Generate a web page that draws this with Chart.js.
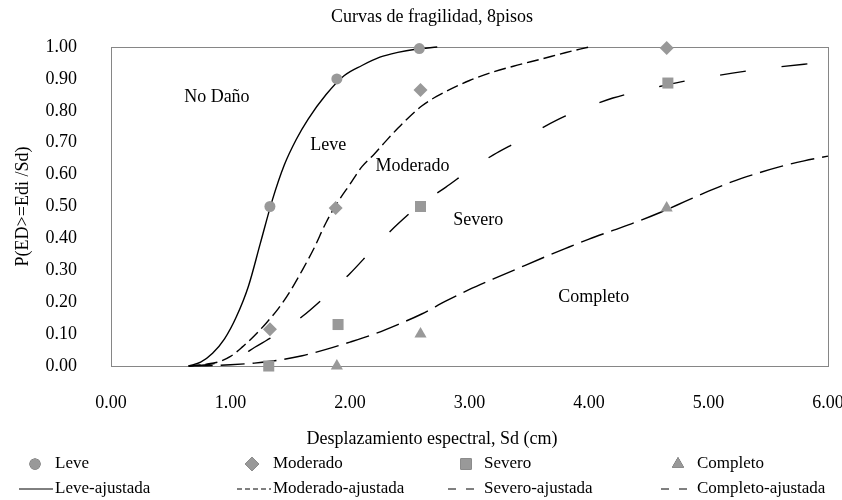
<!DOCTYPE html>
<html>
<head>
<meta charset="utf-8">
<script src="https://cdn.jsdelivr.net/npm/chart.js@4.4.0/dist/chart.umd.min.js"></script>
<style>
  html, body { margin: 0; padding: 0; background: #fff; }
  #wrap { width: 842px; height: 500px; }
</style>
</head>
<body>
<div id="wrap"><canvas id="fragChart"></canvas></div>
<script>
// axis ticks
const sdTicks = [0, 1, 2, 3, 4, 5, 6];
const pTicks = [0, 0.1, 0.2, 0.3, 0.4, 0.5, 0.6, 0.7, 0.8, 0.9, 1.0];

// observed points (Sd in cm, probability)
const leveSd = [1.33, 1.89, 2.58];
const leveP = [0.50, 0.90, 0.995];
const modSd = [1.33, 1.88, 2.59, 4.65];
const modP = [0.115, 0.495, 0.865, 0.997];
const sevSd = [1.32, 1.90, 2.59, 4.66];
const sevP = [0.0, 0.13, 0.50, 0.887];
const compSd = [1.89, 2.59, 4.65];
const compP = [0.0, 0.10, 0.495];

// fitted curves
const leveFitSd = [0.65, 0.75, 0.85, 0.95, 1.05, 1.15, 1.25, 1.35, 1.45, 1.55, 1.65, 1.8, 1.95, 2.1, 2.25, 2.4, 2.55, 2.73];
const leveFitP = [0, 0.012, 0.04, 0.085, 0.155, 0.25, 0.385, 0.52, 0.63, 0.71, 0.774, 0.851, 0.91, 0.942, 0.968, 0.983, 0.993, 1.0];
const modFitSd = [0.65, 0.8, 0.9, 1.0, 1.1, 1.2, 1.3, 1.4, 1.5, 1.6, 1.7, 1.8, 1.9, 2.0, 2.1, 2.2, 2.3, 2.4, 2.6, 2.8, 3.0, 3.2, 3.4, 3.6, 3.8, 4.0];
const modFitP = [0, 0.006, 0.013, 0.03, 0.06, 0.095, 0.135, 0.18, 0.235, 0.30, 0.37, 0.45, 0.515, 0.57, 0.625, 0.663, 0.705, 0.745, 0.815, 0.86, 0.895, 0.922, 0.943, 0.962, 0.982, 1.0];
const sevFitSd = [0.65, 0.8, 0.9, 1.0, 1.1, 1.2, 1.3, 1.4, 1.6, 1.8, 2.0, 2.2, 2.4, 2.6, 2.8, 3.0, 3.2, 3.4, 3.6, 3.8, 4.0, 4.2, 4.4, 4.6, 4.8, 5.0, 5.2, 5.4, 5.6, 5.8, 6.0];
const sevFitP = [0, 0.004, 0.01, 0.02, 0.035, 0.058, 0.08, 0.102, 0.155, 0.22, 0.29, 0.37, 0.445, 0.51, 0.56, 0.614, 0.662, 0.703, 0.745, 0.783, 0.813, 0.84, 0.86, 0.877, 0.893, 0.906, 0.918, 0.929, 0.938, 0.946, 0.953];
const compFitSd = [0.65, 0.8, 1.0, 1.2, 1.4, 1.6, 1.8, 2.0, 2.2, 2.4, 2.6, 2.8, 3.0, 3.2, 3.4, 3.6, 3.8, 4.0, 4.2, 4.4, 4.6, 4.8, 5.0, 5.2, 5.4, 5.6, 5.8, 6.0];
const compFitP = [0, 0.001, 0.004, 0.009, 0.018, 0.032, 0.052, 0.075, 0.1, 0.13, 0.163, 0.203, 0.24, 0.273, 0.305, 0.337, 0.368, 0.398, 0.425, 0.452, 0.482, 0.515, 0.548, 0.578, 0.603, 0.625, 0.643, 0.658];

// damage state labels inside the plot
const zoneNames = ["No Daño", "Leve", "Moderado", "Severo", "Completo"];
const zoneSd = [0.886, 1.817, 2.523, 3.074, 4.04];
const zoneP = [0.843, 0.693, 0.627, 0.458, 0.216];

const serif = "'Liberation Serif', 'Times New Roman', serif";
const markGray = "#999999";

function pts(xs, ys) {
	return xs.map((x, i) => ({ x: x, y: ys[i] }));
}

function markerSet(label, xs, ys, style, r) {
	return {
		label: label,
		data: pts(xs, ys),
		showLine: false,
		pointStyle: style,
		pointRadius: r,
		pointHoverRadius: r,
		pointBackgroundColor: markGray,
		pointBorderColor: markGray,
		pointBorderWidth: 0,
		clip: false,
		order: 0,
	};
}

function fitSet(label, xs, ys, dash, legendDash) {
	return {
		label: label,
		data: pts(xs, ys),
		showLine: true,
		borderColor: "#000",
		borderWidth: 1.4,
		borderDash: dash,
		legendDash: legendDash,
		pointRadius: 0,
		cubicInterpolationMode: "monotone",
		fill: false,
		clip: false,
		order: 1,
	};
}

const datasets = [
	markerSet("Leve", leveSd, leveP, "circle", 5.5),
	markerSet("Moderado", modSd, modP, "rectRot", 7),
	markerSet("Severo", sevSd, sevP, "rect", 7.8),
	markerSet("Completo", compSd, compP, "triangle", 7),
	fitSet("Leve-ajustada", leveFitSd, leveFitP, [], []),
	fitSet("Moderado-ajustada", modFitSd, modFitP, [12, 5], [5, 3]),
	fitSet("Severo-ajustada", sevFitSd, sevFitP, [26, 36], [8, 10]),
	fitSet("Completo-ajustada", compFitSd, compFitP, [24, 8], [8, 10]),
];

// frame, texts and the two-row legend
const decorPlugin = {
	id: "decor",
	beforeDatasetsDraw(chart) {
		const { ctx, chartArea: a } = chart;
		ctx.save();
		ctx.strokeStyle = "#868686";
		ctx.lineWidth = 1;
		ctx.strokeRect(a.left + 0.5, a.top + 0.5, a.right - a.left, a.bottom - a.top);
		ctx.restore();
	},
	afterDraw(chart) {
		const { ctx, scales } = chart;
		ctx.save();
		ctx.fillStyle = "#000";
		ctx.textBaseline = "middle";
		ctx.textAlign = "center";
		ctx.font = "18px " + serif;
		ctx.fillText("Curvas de fragilidad, 8pisos", 432, 17);
		ctx.fillText("Desplazamiento espectral, Sd (cm)", 432, 439);

		zoneNames.forEach((t, i) => {
			ctx.fillText(t, scales.x.getPixelForValue(zoneSd[i]), scales.y.getPixelForValue(zoneP[i]));
		});

		// legend
		const colMark = [35, 252, 466, 678];
		const colText = [55, 273, 484, 697];
		const row1 = 464, row2 = 489;
		ctx.textAlign = "left";
		ctx.font = "17px " + serif;
		const ds = chart.data.datasets;
		for (let i = 0; i < 4; i++) {
			const m = ds[i];
			Chart.helpers.drawPoint(ctx, {
				pointStyle: m.pointStyle,
				radius: m.pointRadius,
				rotation: 0,
				borderWidth: 0,
			}, colMark[i], row1);
			ctx.fillStyle = markGray;
			ctx.fill();
			ctx.fillStyle = "#000";
			ctx.fillText(m.label, colText[i], row1);

			const f = ds[i + 4];
			ctx.beginPath();
			ctx.setLineDash(f.legendDash);
			ctx.strokeStyle = "#000";
			ctx.lineWidth = 1;
			ctx.moveTo(colText[i] - 36, row2);
			ctx.lineTo(colText[i] - 2, row2);
			ctx.stroke();
			ctx.setLineDash([]);
			ctx.fillText(f.label, colText[i], row2);
		}
		ctx.restore();
	},
};

const ctx = document.getElementById("fragChart").getContext("2d");
new Chart(ctx, {
	type: "scatter",
	data: { datasets: datasets },
	plugins: [decorPlugin],
	options: {
		responsive: true,
		maintainAspectRatio: false,
		animation: false,
		layout: { padding: { top: 47, right: 14, bottom: 0, left: 0 } },
		plugins: {
			legend: { display: false },
			title: { display: false },
			tooltip: { enabled: false },
		},
		scales: {
			x: {
				type: "linear",
				min: 0,
				max: 6,
				afterBuildTicks: (s) => { s.ticks = sdTicks.map((v) => ({ value: v })); },
				afterFit: (s) => { s.height = 134; s.paddingLeft = 0; s.paddingRight = 0; },
				ticks: {
					callback: (v) => Number(v).toFixed(2),
					color: "#000",
					font: { family: serif, size: 18 },
					padding: 26,
					maxRotation: 0,
					autoSkip: false,
				},
				grid: { display: false, drawTicks: false, tickLength: 0 },
				border: { display: false },
			},
			y: {
				type: "linear",
				min: 0,
				max: 1,
				afterBuildTicks: (s) => { s.ticks = pTicks.map((v) => ({ value: v })); },
				afterFit: (s) => { s.width = 111; },
				ticks: {
					callback: (v) => Number(v).toFixed(2),
					color: "#000",
					font: { family: serif, size: 18 },
					padding: 34,
					autoSkip: false,
				},
				grid: { display: false, drawTicks: false, tickLength: 0 },
				border: { display: false },
				title: {
					display: true,
					text: "P(ED>=Edi /Sd)",
					color: "#000",
					font: { family: serif, size: 18 },
					padding: { top: 12, bottom: 12 },
				},
			},
		},
	},
});
</script>
</body>
</html>
